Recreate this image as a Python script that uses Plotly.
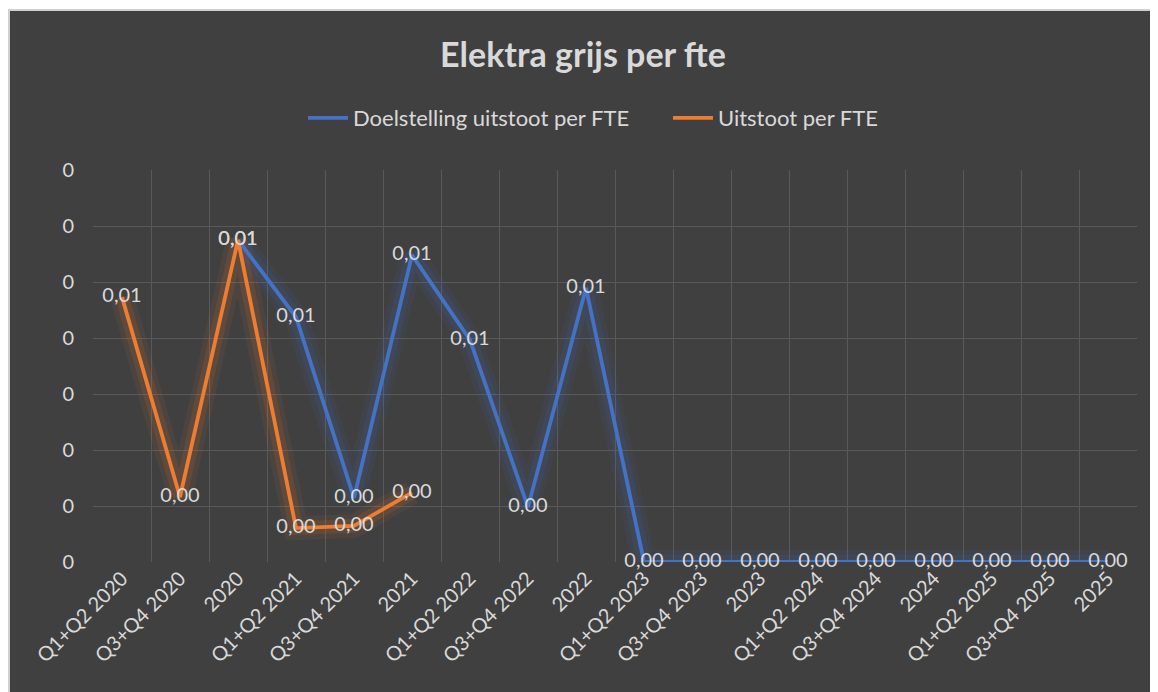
import plotly.graph_objects as go

categories = ["Q1+Q2 2020", "Q3+Q4 2020", "2020", "Q1+Q2 2021", "Q3+Q4 2021", "2021",
              "Q1+Q2 2022", "Q3+Q4 2022", "2022", "Q1+Q2 2023", "Q3+Q4 2023", "2023",
              "Q1+Q2 2024", "Q3+Q4 2024", "2024", "Q1+Q2 2025", "Q3+Q4 2025", "2025"]

doelstelling = [None, None, 0.0115, 0.00875, 0.00229, 0.01096, 0.00793, 0.00196, 0.00979,
                0, 0, 0, 0, 0, 0, 0, 0, 0]
uitstoot = [0.00946, 0.00232, 0.0115, 0.00121, 0.00129, 0.00248] + [None] * 12

y_ticks = [0, 0.002, 0.004, 0.006, 0.008, 0.010, 0.012, 0.014]

BLUE = "#4472C4"
ORANGE = "#ED7D31"
TXT = "#D9D9D9"
FONT = "Lato"

W, H = 1150, 684          # page body adds an 8px margin
L, R, T, B = 85, 21, 162, 130
PW, PH = W - L - R, H - T - B

fig = go.Figure()

# soft glow layers under the lines
for vals, rgb in [(doelstelling, "68,114,196"), (uitstoot, "237,125,49")]:
    for w, a in [(24, 0.07), (14, 0.12)]:
        fig.add_trace(go.Scatter(x=categories, y=vals, mode="lines",
                                 line=dict(color=f"rgba({rgb},{a})", width=w),
                                 showlegend=False, hoverinfo="skip", connectgaps=False))

fig.add_trace(go.Scatter(x=categories, y=doelstelling, mode="lines+text",
                         name="Doelstelling uitstoot per FTE" + "&nbsp;" * 6,
                         line=dict(color=BLUE, width=3.8), cliponaxis=False,
                         texttemplate="%{y:.2f}", textposition="middle center",
                         textfont=dict(color=TXT, size=20, family=FONT)))
fig.add_trace(go.Scatter(x=categories, y=uitstoot, mode="lines+text",
                         name="Uitstoot per FTE",
                         line=dict(color=ORANGE, width=3.8), cliponaxis=False,
                         texttemplate="%{y:.2f}", textposition="middle center",
                         textfont=dict(color=TXT, size=20, family=FONT)))

fig.update_layout(
    width=W, height=H,
    paper_bgcolor="white",
    plot_bgcolor="#404040",
    separators=",.",
    margin=dict(l=L, r=R, t=T, b=B, autoexpand=False),
    font=dict(family=FONT, color=TXT, size=20),
    title=dict(text="<b>Elektra grijs per fte</b>", x=0.5, xanchor="center",
               y=1 - 47 / H, yanchor="middle", yref="container",
               font=dict(size=34, color=TXT, family=FONT)),
    legend=dict(orientation="h", x=0.5 + 10 / W, xanchor="center", xref="container",
                y=1 - 110 / H, yanchor="middle", yref="container",
                bgcolor="rgba(0,0,0,0)",
                font=dict(size=22, color=TXT, family=FONT), itemwidth=40),
    shapes=[dict(type="rect", xref="paper", yref="paper", layer="below",
                 x0=(-L + 1) / PW, x1=1 + (R + 5) / PW,
                 y0=-(B + 5) / PH, y1=1 + (T - 2) / PH,
                 fillcolor="#404040", line=dict(color="#D0D0D0", width=2))],
    showlegend=True,
)

fig.update_xaxes(type="category", categoryorder="array", categoryarray=categories,
                 range=[-0.5, 17.5], tickson="boundaries", showgrid=True,
                 gridcolor="#595959", gridwidth=1, tickangle=-45, ticks="",
                 tickfont=dict(size=20, color=TXT, family=FONT), showline=False,
                 zeroline=False)
fig.update_yaxes(range=[0, 0.014], tickvals=y_ticks, tickformat=".0f",
                 showgrid=True, gridcolor="#595959", gridwidth=1, zeroline=False,
                 ticks="", ticklabelstandoff=18,
                 tickfont=dict(size=20, color=TXT, family=FONT), showline=False)

fig.write_html("out.html")
